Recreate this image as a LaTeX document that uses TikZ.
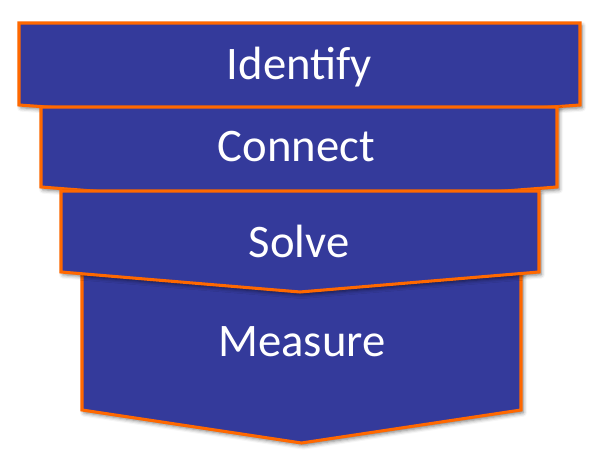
\documentclass[tikz,border=0pt]{standalone}
\usepackage{fontspec}
\setmainfont{Carlito}
\usepackage{tikz}
\usetikzlibrary{shadows,shadows.blur}
\definecolor{stepfill}{RGB}{52,58,155}
\definecolor{stepedge}{RGB}{255,104,0}
\tikzset{
  stage/.style={draw=stepedge, line width=2.3pt, line join=miter, fill=stepfill,
    blur shadow={shadow xshift=1.5pt, shadow yshift=-2pt, shadow blur radius=3pt, shadow opacity=55}},
  stagetext/.style={anchor=base, inner sep=0pt, text=white, font=\fontsize{35}{42}\selectfont}
}

\begin{document}
\begin{tikzpicture}[x=0.75pt,y=0.75pt,yscale=-1,xscale=1]
\useasboundingbox (0,0) rectangle (594,459);

%Shape: Chevron [id:measure]
\draw [stage] (82,272) -- (521,272) -- (521,410) -- (301.5,443) -- (82,410) -- cycle ;
%Shape: Chevron [id:identify]
\draw [stage] (19,23) -- (580,23) -- (580,105) -- (299.5,125) -- (19,105) -- cycle ;
%Shape: Chevron [id:connect]
\draw [stage] (41,107) -- (557,107) -- (557,187) -- (299,207) -- (41,187) -- cycle ;
%Shape: Chevron [id:solve]
\draw [stage] (61,191) -- (539,191) -- (539,272) -- (300,292) -- (61,272) -- cycle ;

% Text Node
\draw (299.5,80) node (identify) [stagetext] {Identify};
% Text Node
\draw (296.5,162) node (connect) [stagetext] {Connect};
% Text Node
\draw (299,258) node (solve) [stagetext] {Solve};
% Text Node
\draw (302,357) node (measure) [stagetext] {Measure};

\end{tikzpicture}
\end{document}
